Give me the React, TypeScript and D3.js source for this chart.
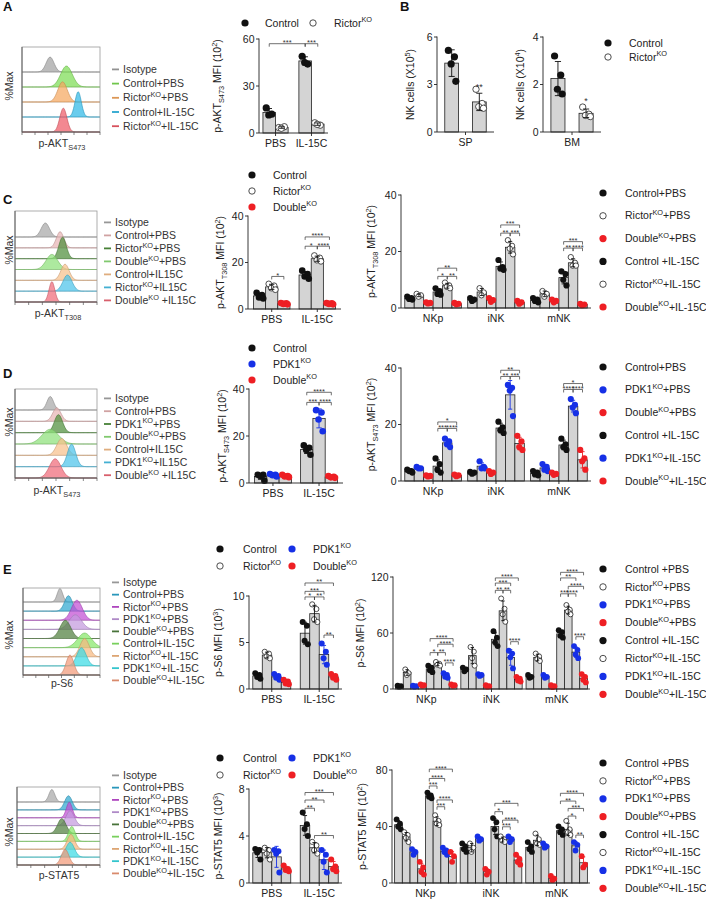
import React from 'react';
import * as d3 from 'd3';

const FONT = "'Liberation Sans', Arial, Helvetica, sans-serif";
const INK = '#222';
const BLUE = '#1630e6';
const RED = '#ee1f24';
const BAR_FILL = '#d4d4d4';

// ---------- data ----------
const treatments = ['PBS', 'IL-15C'];
const subsets = ['NKp', 'iNK', 'mNK'];

// A
const aHistLabels = ['Isotype', 'Control+PBS', 'Rictor^{KO}+PBS', 'Control+IL-15C', 'Rictor^{KO}+IL-15C'];
const aHistColors = ['#a2a2a2', '#7ddc55', '#f5a860', '#2fb8e6', '#ef5a66'];
const aHistCenters = [0.36, 0.57, 0.52, 0.72, 0.53];
const aHistWidths = [0.05, 0.075, 0.06, 0.04, 0.045];
const aHistHeights = [1.0, 1.4, 1.35, 1.7, 1.6];
const aLegend = ['Control', 'Rictor^{KO}'];
const aStyles = ['black', 'open'];
const aPoints = [
  [[16, 12, 11.5], [3.5, 4, 3]],
  [[49, 44, 45], [6.5, 5, 5.5]],
];
const aBrackets: Br[] = [[0, 0, 1, 0, 57, '***'], [1, 0, 1, 1, 57, '***']];

// B
const bSpPoints = [[[5.15, 4.75, 4.3, 3.2], [2.7, 1.8, 1.6, 1.5]]];
const bBmPoints = [[[3.2, 2.4, 1.8, 1.6], [1.05, 0.75, 0.7, 0.65]]];
const bSpStars: St[] = [[0, 1, 2.85, '**']];
const bBmStars: St[] = [[0, 1, 1.3, '*']];

// C
const cHistLabels = ['Isotype', 'Control+PBS', 'Rictor^{KO}+PBS', 'Double^{KO}+PBS', 'Control+IL15C', 'Rictor^{KO}+IL15C', 'Double^{KO} +IL15C'];
const cHistColors = ['#a8a8a8', '#e8b4b4', '#4f8f3c', '#8ee07a', '#f8c08c', '#4cc4ea', '#f06a78'];
const cHistCenters = [0.37, 0.55, 0.58, 0.45, 0.61, 0.64, 0.45];
const cHistWidths = [0.05, 0.045, 0.045, 0.07, 0.05, 0.055, 0.035];
const cHistHeights = [1.3, 1.5, 2.0, 1.4, 1.5, 1.5, 1.9];
const cMidLegend = ['Control', 'Rictor^{KO}', 'Double^{KO}'];
const cMidStyles = ['black', 'open', 'red'];
const cMidPoints = [
  [[7, 6, 5, 4.5], [10.8, 10, 9, 8.3], [2.6, 2.4, 2.2, 2]],
  [[16.5, 15, 14, 13], [23, 22, 21, 20.5], [2.6, 2.4, 2.2, 2]],
];
const cMidBrackets: Br[] = [[0, 1, 0, 2, 14, '*'], [1, 0, 1, 2, 31, '****'], [1, 0, 1, 1, 27, '*'], [1, 1, 1, 2, 27, '****']];
const cRightLegend = ['Control+PBS', 'Rictor^{KO}+PBS', 'Double^{KO}+PBS', 'Control +IL-15C', 'Rictor^{KO}+IL-15C', 'Double^{KO}+IL-15C'];
const cRightStyles = ['black', 'open', 'red', 'black', 'open', 'red'];
const cRightPoints = [
  [[4, 3.5, 3.2, 3], [5, 4.5, 4], [2, 1.8, 1.6], [7, 6, 5, 4.7], [9, 8, 7.5, 7], [1.8, 1.5, 1.3]],
  [[3.5, 3, 2.5], [7, 5.5, 4.5], [3.5, 2.8, 2.2], [17, 14.5, 14, 13.5], [24, 22, 21, 19], [2.5, 2, 1.5]],
  [[3.5, 3, 2.5, 2], [6, 5, 4], [3, 2.5, 2], [13, 12, 10, 8], [18, 16, 15, 15], [1.5, 1.2, 1]],
];
const cRightBrackets: Br[] = [
  [0, 3, 0, 5, 14.1, '**'], [0, 3, 0, 4, 11.2, '*'], [0, 4, 0, 5, 11.2, '**'],
  [1, 3, 1, 5, 29.4, '***'], [1, 3, 1, 4, 26.5, '**'], [1, 4, 1, 5, 26.5, '***'],
  [2, 3, 2, 5, 23.5, '***'], [2, 3, 2, 4, 21.2, '**'], [2, 4, 2, 5, 21.2, '****'],
];

// D
const dHistLabels = ['Isotype', 'Control+PBS', 'PDK1^{KO}+PBS', 'Double^{KO}+PBS', 'Control+IL15C', 'PDK1^{KO}+IL15C', 'Double^{KO} +IL15C'];
const dHistColors = ['#a8a8a8', '#e8b4b4', '#4f8f3c', '#8ee07a', '#f8c08c', '#4cc4ea', '#f06a78'];
const dHistCenters = [0.43, 0.51, 0.53, 0.43, 0.57, 0.69, 0.49];
const dHistWidths = [0.04, 0.05, 0.05, 0.1, 0.06, 0.05, 0.07];
const dHistHeights = [1.2, 1.2, 1.6, 1.3, 1.5, 2.0, 1.7];
const dMidLegend = ['Control', 'PDK1^{KO}', 'Double^{KO}'];
const dMidStyles = ['black', 'blue', 'red'];
const dMidPoints = [
  [[3.5, 3.5, 3, 1], [3.8, 3.5, 3.3, 2.8], [3.5, 3, 2.8, 2.5]],
  [[16, 15, 14, 12], [31, 30, 27, 22], [3, 2.6, 2.4, 2.2]],
];
const dMidBrackets: Br[] = [[1, 0, 1, 2, 38.6, '****'], [1, 0, 1, 1, 34.3, '***'], [1, 1, 1, 2, 34.3, '****']];
const dRightLegend = ['Control+PBS', 'PDK1^{KO}+PBS', 'Double^{KO}+PBS', 'Control +IL-15C', 'PDK1^{KO}+IL-15C', 'Double^{KO}+IL-15C'];
const dRightStyles = ['black', 'blue', 'red', 'black', 'blue', 'red'];
const dRightPoints = [
  [[4, 3.5, 3.5, 3], [5, 4.5, 4.5], [2, 1.8, 1.6], [8, 6, 4, 3], [15, 14, 13, 12], [2.3, 2, 1.7]],
  [[3.2, 3, 2.6], [7, 5, 4.5, 4.5], [3.5, 3, 2.5], [21, 19, 18, 17], [34, 33, 32, 23], [16, 14, 12, 11]],
  [[3.5, 3, 2.3, 2], [6, 5, 4, 3.5], [3, 2.5, 2.2], [15, 13, 12, 11], [29, 27, 26, 24], [11, 8, 7, 4]],
];
const dRightBrackets: Br[] = [
  [0, 3, 0, 5, 20.9, '*'], [0, 3, 0, 4, 18.6, '***'], [0, 4, 0, 5, 18.6, '****'],
  [1, 3, 1, 5, 39.2, '**'], [1, 3, 1, 4, 37, '**'], [1, 4, 1, 5, 37, '***'],
  [2, 3, 2, 5, 34.5, '*'], [2, 3, 2, 4, 32.4, '****'], [2, 4, 2, 5, 32.4, '****'],
];

// E
const eHistLabels = ['Isotype', 'Control+PBS', 'Rictor^{KO}+PBS', 'PDK1^{KO}+PBS', 'Double^{KO}+PBS', 'Control+IL-15C', 'Rictor^{KO}+IL-15C', 'PDK1^{KO}+IL-15C', 'Double^{KO}+IL-15C'];
const eHistColors = ['#a8a8a8', '#2fa8d0', '#c24ed4', '#c39ade', '#50803f', '#86e868', '#f6b880', '#3adbe4', '#f29a78'];
const e1HistCenters = [0.48, 0.59, 0.7, 0.68, 0.55, 0.8, 0.8, 0.76, 0.61];
const e1HistWidths = [0.035, 0.05, 0.07, 0.08, 0.07, 0.09, 0.06, 0.06, 0.05];
const e1HistHeights = [1.5, 1.7, 2.2, 1.6, 2.0, 1.6, 2.0, 2.0, 2.2];
const e2HistCenters = [0.42, 0.62, 0.63, 0.64, 0.54, 0.66, 0.65, 0.64, 0.58];
const e2HistWidths = [0.035, 0.045, 0.035, 0.05, 0.05, 0.04, 0.045, 0.05, 0.045];
const e2HistHeights = [1.6, 1.8, 2.0, 1.9, 1.9, 1.9, 1.9, 1.9, 2.0];
const eMidLegend = ['Control', 'Rictor^{KO}', 'PDK1^{KO}', 'Double^{KO}'];
const eMidStyles = ['black', 'open', 'blue', 'red'];
const eRightLegend = ['Control +PBS', 'Rictor^{KO}+PBS', 'PDK1^{KO}+PBS', 'Double^{KO}+PBS', 'Control +IL-15C', 'Rictor^{KO}+IL-15C', 'PDK1^{KO}+IL-15C', 'Double^{KO}+IL-15C'];
const eRightStyles = ['black', 'open', 'blue', 'red', 'black', 'open', 'blue', 'red'];
const e1MidPoints = [
  [[1.7, 1.5, 1.3, 1.1], [4, 3.8, 3.5, 3.3], [1.6, 1.4, 1.2, 1], [1, 0.8, 0.6, 0.5]],
  [[7.2, 6.8, 5.2, 4.8], [9.1, 8.6, 7.5, 7.2], [4.9, 4, 3.3, 2.6], [1.6, 1.4, 1.2, 1]],
];
const e1MidBrackets: Br[] = [[1, 0, 1, 3, 11.4, '**'], [1, 0, 1, 2, 10.5, '***'], [1, 0, 1, 1, 9.9, '*'], [1, 1, 1, 2, 9.9, '**'], [1, 2, 1, 3, 5.8, '**']];
const e1RightPoints = [
  [[3.5, 3, 2.5], [21, 17, 15], [3.5, 3, 2.5], [5, 4, 3.5], [25, 23, 20, 18], [29, 27, 26, 25], [17, 15, 13, 12], [5, 4, 3.5]],
  [[23, 21, 19], [45, 40, 33, 25], [16, 15, 14], [4, 3, 2.5], [62, 55, 50, 46], [97, 86, 80, 72], [41, 38, 34, 22], [13, 11, 9, 8]],
  [[15, 13, 12], [38, 35, 32, 30], [15, 13, 12], [4, 3, 2], [63, 61, 57, 55], [90, 85, 83, 80], [46, 42, 37, 33], [16, 13, 10, 7]],
];
const e1RightBrackets: Br[] = [
  [0, 4, 0, 7, 54, '****'], [0, 5, 0, 7, 48, '****'], [0, 4, 0, 5, 39, '*'], [0, 5, 0, 6, 39, '**'], [0, 6, 0, 7, 28, '****'],
  [1, 4, 1, 7, 119, '****'], [1, 4, 1, 6, 113.5, '***'], [1, 4, 1, 5, 105.7, '**'], [1, 5, 1, 6, 105.7, '**'], [1, 6, 1, 7, 50.7, '****'],
  [2, 4, 2, 7, 125, '****'], [2, 4, 2, 6, 119, '**'], [2, 5, 2, 7, 110, '****'], [2, 4, 2, 5, 102, '***'], [2, 5, 2, 6, 102, '****'], [2, 6, 2, 7, 56, '****'],
];
const e2MidPoints = [
  [[2.9, 2.8, 2.6, 2], [3, 2.8, 2.5, 2], [2.8, 2.7, 2.5, 0.9], [1.5, 1.2, 1.1, 1]],
  [[6, 5, 4.6, 4], [3.5, 3.2, 2.8, 2.5], [2.8, 2.4, 1.8, 0.9], [2, 1.4, 1.2, 1]],
];
const e2MidBrackets: Br[] = [[1, 0, 1, 3, 7.7, '***'], [1, 0, 1, 2, 7.06, '**'], [1, 0, 1, 1, 6.36, '**'], [1, 1, 1, 3, 4.04, '**']];
const e2RightPoints = [
  [[45, 42, 40, 38], [36, 34, 32, 29], [24, 22, 20], [15, 11, 8, 6], [64, 62, 61, 60], [48, 44, 42, 41], [25, 23, 22, 20], [22, 19, 15]],
  [[28, 26, 24, 22], [28, 25, 22], [33, 31, 30], [10, 8, 6], [46, 43, 38, 33], [33, 31, 30, 29], [33, 31, 29], [20, 17, 15, 13]],
  [[29, 26, 24, 22], [35, 31, 28, 27], [28, 26, 25], [5, 3, 2], [40, 38, 36, 34], [44, 38, 36, 34], [29, 27, 23], [19, 13, 11]],
];
const e2RightBrackets: Br[] = [
  [0, 4, 0, 7, 80.6, '****'], [0, 4, 0, 6, 74, '****'], [0, 4, 0, 5, 68.7, '***'], [0, 5, 0, 7, 58.8, '****'], [0, 5, 0, 6, 54, '***'],
  [1, 4, 1, 7, 56.4, '***'], [1, 4, 1, 5, 50.5, '*'], [1, 5, 1, 7, 44.5, '****'], [1, 5, 1, 6, 39.8, '***'],
  [2, 4, 2, 7, 63.5, '****'], [2, 4, 2, 6, 58, '**'], [2, 5, 2, 7, 52.8, '***'], [2, 5, 2, 6, 47.4, '*'], [2, 6, 2, 7, 33.9, '**'],
];

// ---------- helpers ----------
type Br = [number, number, number, number, number, string];
type St = [number, number, number, string];

function richParts(s: string) {
  const out: { t: string; k: string }[] = [];
  s.split(/(\^\{[^}]*\}|_\{[^}]*\})/).forEach((p) => {
    if (!p) return;
    if (p.startsWith('^{')) out.push({ t: p.slice(2, -1), k: 'sup' });
    else if (p.startsWith('_{')) out.push({ t: p.slice(2, -1), k: 'sub' });
    else out.push({ t: p, k: 'n' });
  });
  return out;
}

function Rich({ s, x, y, fs = 10.5, anchor = 'start', transform, fill = INK, weight }: any) {
  const parts = richParts(s);
  let shift = 0;
  return (
    <text x={x} y={y} fontSize={fs} textAnchor={anchor} transform={transform} fill={fill} fontWeight={weight} fontFamily={FONT}>
      {parts.map((p, i) => {
        const target = p.k === 'sup' ? -fs * 0.4 : p.k === 'sub' ? fs * 0.28 : 0;
        const dy = target - shift;
        shift = target;
        return (
          <tspan key={i} dy={dy} fontSize={p.k === 'n' ? fs : fs * 0.7}>
            {p.t}
          </tspan>
        );
      })}
    </text>
  );
}

const dotColor = (s: string) => (s === 'blue' ? BLUE : s === 'red' ? RED : '#111');

function Dot({ x, y, style, r = 3 }: any) {
  if (style === 'open') return <circle cx={x} cy={y} r={r - 0.4} fill="#fff" stroke="#222" strokeWidth={0.8} />;
  return <circle cx={x} cy={y} r={r} fill={dotColor(style)} />;
}

function KeyItem({ x, y, tx, style, label, r = 3.6 }: any) {
  return (
    <g>
      <Dot x={x} y={y} style={style} r={r} />
      <Rich s={label} x={tx} y={y + 3.6} fs={10.5} />
    </g>
  );
}

interface BarSpec {
  x0: number; x1: number; yTop: number; yBot: number; max: number; ticks: number[];
  groups: string[]; styles: string[]; points: number[][][];
  padIn: number; padOut: number; barPad?: number; r?: number;
  brackets?: Br[]; stars?: St[]; ylabel: string; ylabelX: number;
}

function BarChart(p: BarSpec) {
  const nS = p.styles.length;
  const gx = d3.scaleBand<string>().domain(p.groups).range([p.x0, p.x1]).paddingInner(p.padIn).paddingOuter(p.padOut);
  const sx = d3.scaleBand<number>().domain(d3.range(nS)).range([0, gx.bandwidth()]).paddingInner(p.barPad ?? 0);
  const y = d3.scaleLinear().domain([0, p.max]).range([p.yBot, p.yTop]);
  const bw = sx.bandwidth();
  const cx = (g: number, s: number) => (gx(p.groups[g]) as number) + (sx(s) as number) + bw / 2;
  const r = p.r ?? 3;
  const jit = [-0.24, 0.2, -0.04, 0.3, -0.32];
  const cells: any[] = [];
  p.points.forEach((grp, g) => grp.forEach((pts, s) => {
    const m = d3.mean(pts) as number;
    const sd = d3.deviation(pts) ?? 0;
    cells.push({ g, s, pts, m, sd, x: cx(g, s), style: p.styles[s] });
  }));
  return (
    <g>
      {cells.map((c, i) => (
        <rect key={'b' + i} x={c.x - bw / 2} y={y(c.m)} width={bw} height={p.yBot - y(c.m)} fill={BAR_FILL} stroke={INK} strokeWidth={0.8} />
      ))}
      {cells.map((c, i) => (
        <g key={'p' + i}>
          {c.pts.map((v: number, j: number) => (
            <Dot key={j} x={c.x + jit[j % jit.length] * bw} y={y(v)} style={c.style} r={r} />
          ))}
        </g>
      ))}
      {cells.map((c, i) => {
        const col = c.style === 'blue' ? BLUE : c.style === 'red' ? RED : '#111';
        const hi = y(c.m + c.sd);
        const lo = y(Math.max(0, c.m - c.sd));
        const cw = bw * 0.22;
        return (
          <g key={'e' + i} stroke={col} strokeWidth={0.9}>
            <line x1={c.x} x2={c.x} y1={hi} y2={lo} />
            <line x1={c.x - cw} x2={c.x + cw} y1={hi} y2={hi} />
            <line x1={c.x - cw} x2={c.x + cw} y1={lo} y2={lo} />
          </g>
        );
      })}
      {/* axes */}
      <line x1={p.x0} x2={p.x0} y1={p.yBot} y2={p.yTop - 0.5} stroke={INK} strokeWidth={0.9} />
      <line x1={p.x0} x2={p.x1} y1={p.yBot} y2={p.yBot} stroke={INK} strokeWidth={0.9} />
      {p.ticks.map((t) => (
        <g key={t}>
          <line x1={p.x0 - 3} x2={p.x0} y1={y(t)} y2={y(t)} stroke={INK} strokeWidth={0.9} />
          <text x={p.x0 - 4.5} y={y(t) + 3.8} fontSize={10.5} textAnchor="end" fill={INK} fontFamily={FONT}>{t}</text>
        </g>
      ))}
      {p.groups.map((gname) => {
        const gc = (gx(gname) as number) + gx.bandwidth() / 2;
        return (
          <g key={gname}>
            <line x1={gc} x2={gc} y1={p.yBot} y2={p.yBot + 3} stroke={INK} strokeWidth={0.9} />
            <text x={gc} y={p.yBot + 14} fontSize={10.5} textAnchor="middle" fill={INK} fontFamily={FONT}>{gname}</text>
          </g>
        );
      })}
      {(p.brackets ?? []).map((b, i) => {
        const xa = cx(b[0], b[1]);
        const xb = cx(b[2], b[3]);
        const yy = y(b[4]);
        return (
          <g key={'k' + i}>
            <path d={`M${xa},${yy + 3}V${yy}H${xb}V${yy + 3}`} fill="none" stroke="#333" strokeWidth={0.7} />
            <text x={(xa + xb) / 2} y={yy + 1.5} fontSize={7.5} textAnchor="middle" fill="#333" fontFamily={FONT}>{b[5]}</text>
          </g>
        );
      })}
      {(p.stars ?? []).map((st, i) => (
        <text key={'s' + i} x={cx(st[0], st[1])} y={y(st[2]) + 3} fontSize={9} textAnchor="middle" fill="#333" fontFamily={FONT}>{st[3]}</text>
      ))}
      <Rich s={p.ylabel} x={0} y={0} fs={10.5} anchor="middle" transform={`translate(${p.ylabelX},${(p.yTop + p.yBot) / 2}) rotate(-90)`} />
    </g>
  );
}

interface HistSpec {
  x: number; y: number; w: number; h: number; firstBase: number;
  colors: string[]; centers: number[]; widths: number[]; heights: number[];
  xlabel: string; xlabelX: number; xlabelY: number; maxY: number;
  labels: string[]; legX: number; legY: number; legStep: number;
}

function Histogram(p: HistSpec) {
  const n = p.colors.length;
  const step = (p.y + p.h - p.firstBase) / (n - 1);
  const xs = d3.scaleLinear().domain([0, 1]).range([p.x, p.x + p.w]);
  const ts = d3.range(0, 1.0001, 0.01);
  return (
    <g>
      {d3.range(n).map((i) => {
        const base = p.firstBase + i * step;
        return <line key={'l' + i} x1={p.x} x2={p.x + p.w} y1={base} y2={base} stroke="#cfcfcf" strokeWidth={0.6} />;
      })}
      {d3.range(n).map((i) => {
        const base = p.firstBase + i * step;
        const pk = p.heights[i] * step;
        const c = p.centers[i];
        const sw = p.widths[i];
        const area = d3.area<number>()
          .x((t) => xs(t))
          .y0(base)
          .y1((t) => base - pk * Math.exp(-0.5 * ((t - c) / sw) ** 2))
          .curve(d3.curveBasis);
        const col = d3.color(p.colors[i])!;
        return (
          <path key={'h' + i} d={area(ts) as string} fill={p.colors[i]} fillOpacity={0.72}
            stroke={col.darker(0.6).formatHex()} strokeWidth={0.6} />
        );
      })}
      <rect x={p.x} y={p.y} width={p.w} height={p.h} fill="none" stroke="#9a9a9a" strokeWidth={0.8} />
      <line x1={p.x} x2={p.x + p.w} y1={p.y + p.h} y2={p.y + p.h} stroke="#555" strokeWidth={0.9} />
      <line x1={p.x} x2={p.x} y1={p.y} y2={p.y + p.h} stroke="#555" strokeWidth={0.9} />
      {d3.range(0, 1.0001, 1 / 6).map((t, i) => (
        <line key={'t' + i} x1={xs(t)} x2={xs(t)} y1={p.y + p.h} y2={p.y + p.h + 3} stroke="#555" strokeWidth={0.7} />
      ))}
      <Rich s={p.xlabel} x={p.xlabelX} y={p.xlabelY} fs={10.5} anchor="middle" fill="#333" />
      <text x={0} y={0} fontSize={10.5} textAnchor="middle" fill="#333" fontFamily={FONT}
        transform={`translate(13,${p.maxY}) rotate(-90)`}>%Max</text>
      {p.labels.map((lab, i) => {
        const ly = p.legY + i * p.legStep;
        return (
          <g key={'g' + i}>
            <line x1={p.legX} x2={p.legX + 7} y1={ly - 3.6} y2={ly - 3.6} stroke={d3.color(p.colors[i])!.darker(0.3).formatHex()} strokeWidth={1.8} />
            <Rich s={lab} x={p.legX + 11} y={ly} fs={10.5} fill="#333" />
          </g>
        );
      })}
    </g>
  );
}

function Letter({ x, y, t }: any) {
  return <text x={x} y={y} fontSize={13} fontWeight="bold" fill="#111" fontFamily={FONT}>{t}</text>;
}

export default function App() {
  return (
    <div style={{ position: 'absolute', left: 0, top: 0, background: '#fff' }}>
      <svg width={706} height={901} viewBox="0 0 706 901" style={{ display: 'block' }} fontFamily={FONT}>
        <rect width={706} height={901} fill="#fff" />

        {/* ---------------- A ---------------- */}
        <Letter x={3} y={11} t="A" />
        <Histogram x={22} y={47} w={78} h={85} firstBase={72} colors={aHistColors} centers={aHistCenters}
          widths={aHistWidths} heights={aHistHeights} xlabel="p-AKT_{S473}" xlabelX={62} xlabelY={147} maxY={86}
          labels={aHistLabels} legX={112} legY={73} legStep={14.2} />
        <KeyItem x={245} y={23} tx={265} style={aStyles[0]} label={aLegend[0]} />
        <KeyItem x={313} y={23} tx={334} style={aStyles[1]} label={aLegend[1]} />
        <BarChart x0={259} x1={328} yTop={39} yBot={133} max={60} ticks={[0, 30, 60]} groups={treatments}
          styles={aStyles} points={aPoints} padIn={0.3} padOut={0.11} r={3.6} brackets={aBrackets}
          ylabel="p-AKT_{S473} MFI (10^{2})" ylabelX={221} />

        {/* ---------------- B ---------------- */}
        <Letter x={400} y={11} t="B" />
        <BarChart x0={437} x1={494} yTop={37} yBot={132} max={6} ticks={[0, 3, 6]} groups={['SP']}
          styles={aStyles} points={bSpPoints} padIn={0.2} padOut={0.15} barPad={0.5} r={3.6} stars={bSpStars}
          ylabel="NK cells (X10^{5})" ylabelX={414} />
        <BarChart x0={543} x1={601} yTop={37} yBot={132} max={4} ticks={[0, 2, 4]} groups={['BM']}
          styles={aStyles} points={bBmPoints} padIn={0.2} padOut={0.15} barPad={0.5} r={3.6} stars={bBmStars}
          ylabel="NK cells (X10^{4})" ylabelX={524} />
        <KeyItem x={608} y={43} tx={629} style={aStyles[0]} label={aLegend[0]} />
        <KeyItem x={608} y={57} tx={629} style={aStyles[1]} label={aLegend[1]} />

        {/* ---------------- C ---------------- */}
        <Letter x={3} y={204} t="C" />
        <Histogram x={15} y={211} w={82} h={91} firstBase={237} colors={cHistColors} centers={cHistCenters}
          widths={cHistWidths} heights={cHistHeights} xlabel="p-AKT_{T308}" xlabelX={58} xlabelY={317} maxY={250}
          labels={cHistLabels} legX={104} legY={226} legStep={13} />
        {cMidLegend.map((lab, i) => (
          <KeyItem key={lab} x={252} y={175 + i * 16} tx={273} style={cMidStyles[i]} label={lab} />
        ))}
        <BarChart x0={248} x1={341} yTop={216} yBot={309} max={40} ticks={[0, 20, 40]} groups={treatments}
          styles={cMidStyles} points={cMidPoints} padIn={0.2} padOut={0.12} r={3.3} brackets={cMidBrackets}
          ylabel="p-AKT_{T308} MFI (10^{2})" ylabelX={224} />
        <BarChart x0={401} x1={591} yTop={195} yBot={308} max={40} ticks={[0, 20, 40]} groups={subsets}
          styles={cRightStyles} points={cRightPoints} padIn={0.1} padOut={0.06} r={3.1} brackets={cRightBrackets}
          ylabel="p-AKT_{T308} MFI (10^{2})" ylabelX={375} />
        {cRightLegend.map((lab, i) => (
          <KeyItem key={lab} x={603} y={193 + i * 22.8} tx={625} style={cRightStyles[i]} label={lab} />
        ))}

        {/* ---------------- D ---------------- */}
        <Letter x={3} y={378} t="D" />
        <Histogram x={15} y={389} w={82} h={89} firstBase={410} colors={dHistColors} centers={dHistCenters}
          widths={dHistWidths} heights={dHistHeights} xlabel="p-AKT_{S473}" xlabelX={57} xlabelY={494} maxY={422}
          labels={dHistLabels} legX={104} legY={402} legStep={12.8} />
        {dMidLegend.map((lab, i) => (
          <KeyItem key={lab} x={252} y={348 + i * 16} tx={273} style={dMidStyles[i]} label={lab} />
        ))}
        <BarChart x0={249} x1={343} yTop={389} yBot={483} max={40} ticks={[0, 20, 40]} groups={treatments}
          styles={dMidStyles} points={dMidPoints} padIn={0.2} padOut={0.12} r={3.3} brackets={dMidBrackets}
          ylabel="p-AKT_{S473} MFI (10^{2})" ylabelX={226} />
        <BarChart x0={401} x1={591} yTop={368} yBot={481} max={40} ticks={[0, 20, 40]} groups={subsets}
          styles={dRightStyles} points={dRightPoints} padIn={0.1} padOut={0.06} r={3.1} brackets={dRightBrackets}
          ylabel="p-AKT_{S473} MFI (10^{2})" ylabelX={375} />
        {dRightLegend.map((lab, i) => (
          <KeyItem key={lab} x={603} y={367 + i * 22.8} tx={625} style={dRightStyles[i]} label={lab} />
        ))}

        {/* ---------------- E (p-S6) ---------------- */}
        <Letter x={3} y={574} t="E" />
        <Histogram x={23} y={588} w={77} h={87} firstBase={602} colors={eHistColors} centers={e1HistCenters}
          widths={e1HistWidths} heights={e1HistHeights} xlabel="p-S6" xlabelX={62} xlabelY={687} maxY={635}
          labels={eHistLabels} legX={112} legY={586} legStep={12.25} />
        {eMidLegend.map((lab, i) => (
          <KeyItem key={lab} x={i < 2 ? 220 : 292} y={549 + (i % 2) * 17} tx={i < 2 ? 243 : 313} style={eMidStyles[i]} label={lab} />
        ))}
        <BarChart x0={249} x1={342} yTop={596} yBot={689} max={10} ticks={[0, 5, 10]} groups={treatments}
          styles={eMidStyles} points={e1MidPoints} padIn={0.2} padOut={0.08} r={3} brackets={e1MidBrackets}
          ylabel="p-S6 MFI (10^{3})" ylabelX={222} />
        <BarChart x0={393} x1={590} yTop={577} yBot={689} max={120} ticks={[0, 60, 120]} groups={subsets}
          styles={eRightStyles} points={e1RightPoints} padIn={0.06} padOut={0.04} r={2.9} brackets={e1RightBrackets}
          ylabel="p-S6 MFI (10^{2})" ylabelX={364} />
        {eRightLegend.map((lab, i) => (
          <KeyItem key={lab} x={603} y={569 + i * 17.9} tx={625} style={eRightStyles[i]} label={lab} />
        ))}

        {/* ---------------- E (p-STAT5) ---------------- */}
        <Histogram x={17} y={787} w={83} h={78} firstBase={802} colors={eHistColors} centers={e2HistCenters}
          widths={e2HistWidths} heights={e2HistHeights} xlabel="p-STAT5" xlabelX={59} xlabelY={879} maxY={832}
          labels={eHistLabels} legX={112} legY={779} legStep={12.25} />
        {eMidLegend.map((lab, i) => (
          <KeyItem key={lab} x={i < 2 ? 220 : 292} y={758 + (i % 2) * 17} tx={i < 2 ? 243 : 313} style={eMidStyles[i]} label={lab} />
        ))}
        <BarChart x0={249} x1={342} yTop={789} yBot={883} max={8} ticks={[0, 4, 8]} groups={treatments}
          styles={eMidStyles} points={e2MidPoints} padIn={0.2} padOut={0.08} r={3} brackets={e2MidBrackets}
          ylabel="p-STAT5 MFI (10^{3})" ylabelX={222} />
        <BarChart x0={392} x1={590} yTop={770} yBot={883} max={80} ticks={[0, 40, 80]} groups={subsets}
          styles={eRightStyles} points={e2RightPoints} padIn={0.06} padOut={0.04} r={2.9} brackets={e2RightBrackets}
          ylabel="p-STAT5 MFI (10^{2})" ylabelX={366} />
        {eRightLegend.map((lab, i) => (
          <KeyItem key={lab} x={603} y={763 + i * 17.9} tx={625} style={eRightStyles[i]} label={lab} />
        ))}
      </svg>
    </div>
  );
}
